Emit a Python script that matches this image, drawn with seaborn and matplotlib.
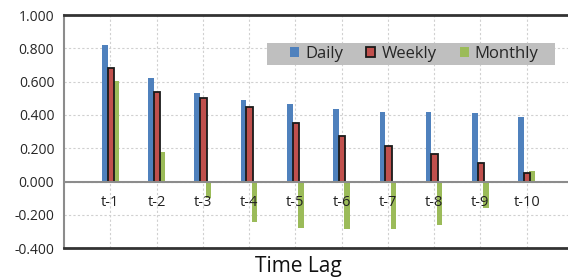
import numpy as np
import pandas as pd
import seaborn as sns
import matplotlib.pyplot as plt
from matplotlib.patches import Patch, Rectangle

# data
lags = ["t-1", "t-2", "t-3", "t-4", "t-5", "t-6", "t-7", "t-8", "t-9", "t-10"]
daily = [0.820, 0.620, 0.530, 0.490, 0.466, 0.438, 0.420, 0.418, 0.410, 0.390]
weekly = [0.684, 0.536, 0.500, 0.446, 0.354, 0.274, 0.216, 0.168, 0.110, 0.050]
monthly = [0.604, 0.180, -0.100, -0.240, -0.280, -0.286, -0.282, -0.260, -0.158, 0.066]

sns.set_style("white")
plt.rcParams["font.family"] = ["Open Sans", "DejaVu Sans"]

fig = plt.figure(figsize=(5.68, 2.78), dpi=100)
ax = fig.add_axes([0.1127, 0.107, 0.896, 0.839])

pos = np.arange(len(lags))
series = [
    ("Daily", daily, -0.12, 0.12, "#4F81BD", "none", 0),
    ("Monthly", monthly, 0.12, 0.12, "#9BBB59", "none", 0),
    ("Weekly", weekly, 0.01, 0.14, "#C0504D", "#1a1a1a", 1.3),
]
for name, vals, off, w, col, ec, lw in series:
    df = pd.DataFrame({"x": pos + off, "y": vals})
    sns.barplot(data=df, x="x", y="y", native_scale=True, width=w, color=col,
                edgecolor=ec, linewidth=lw, saturation=1, ax=ax, zorder=3)

ax.set_xlim(-1, 10)
ax.set_ylim(-0.4, 1.0)
yt = np.arange(-0.4, 1.01, 0.2)
ax.set_yticks(yt)
ax.set_yticklabels([f"{v:.3f}" for v in yt], fontsize=10)
ax.set_xticks(pos)
ax.set_xticklabels([])
ax.tick_params(axis="x", length=0)
ax.tick_params(axis="y", length=4, width=1, color="#888888", direction="out", pad=3)
ax.set_xlabel("")
ax.set_ylabel("")

ax.grid(True, axis="both", linestyle=(0, (2, 2)), color="#d0d0d0", linewidth=0.8, zorder=0)
ax.set_axisbelow(True)
ax.axhline(0, color="#8c8c8c", linewidth=1.5, zorder=4)

for i, lab in enumerate(lags):
    ax.text(i, -0.128, lab, ha="center", va="center", fontsize=10.5, color="#222222", zorder=5)

for s in ["top", "bottom"]:
    ax.spines[s].set_color("#333333")
    ax.spines[s].set_linewidth(2)
ax.spines["left"].set_color("#8c8c8c")
ax.spines["left"].set_linewidth(1.5)
ax.spines["right"].set_visible(False)

# gray legend band
ax.add_patch(Rectangle((0.399, 0.785), 0.566, 0.095, transform=ax.transAxes,
                       facecolor="#bfbfbf", edgecolor="none", zorder=6))
handles = [
    Patch(facecolor="#4F81BD", edgecolor="none", label="Daily"),
    Patch(facecolor="#C0504D", edgecolor="#1a1a1a", linewidth=1.3, label="Weekly"),
    Patch(facecolor="#9BBB59", edgecolor="none", label="Monthly"),
]
leg = ax.legend(handles=handles, loc="center left", bbox_to_anchor=(0.444, 0.833),
                ncol=3, frameon=False, fontsize=12,
                handlelength=0.55, handleheight=0.55, handletextpad=0.35,
                columnspacing=1.4, borderpad=0, borderaxespad=0)
leg.set_zorder(7)

fig.text(298 / 568, 0.042, "Time Lag", ha="center", va="center", fontsize=15, color="#111111")

fig.savefig("out.png", dpi=100)
